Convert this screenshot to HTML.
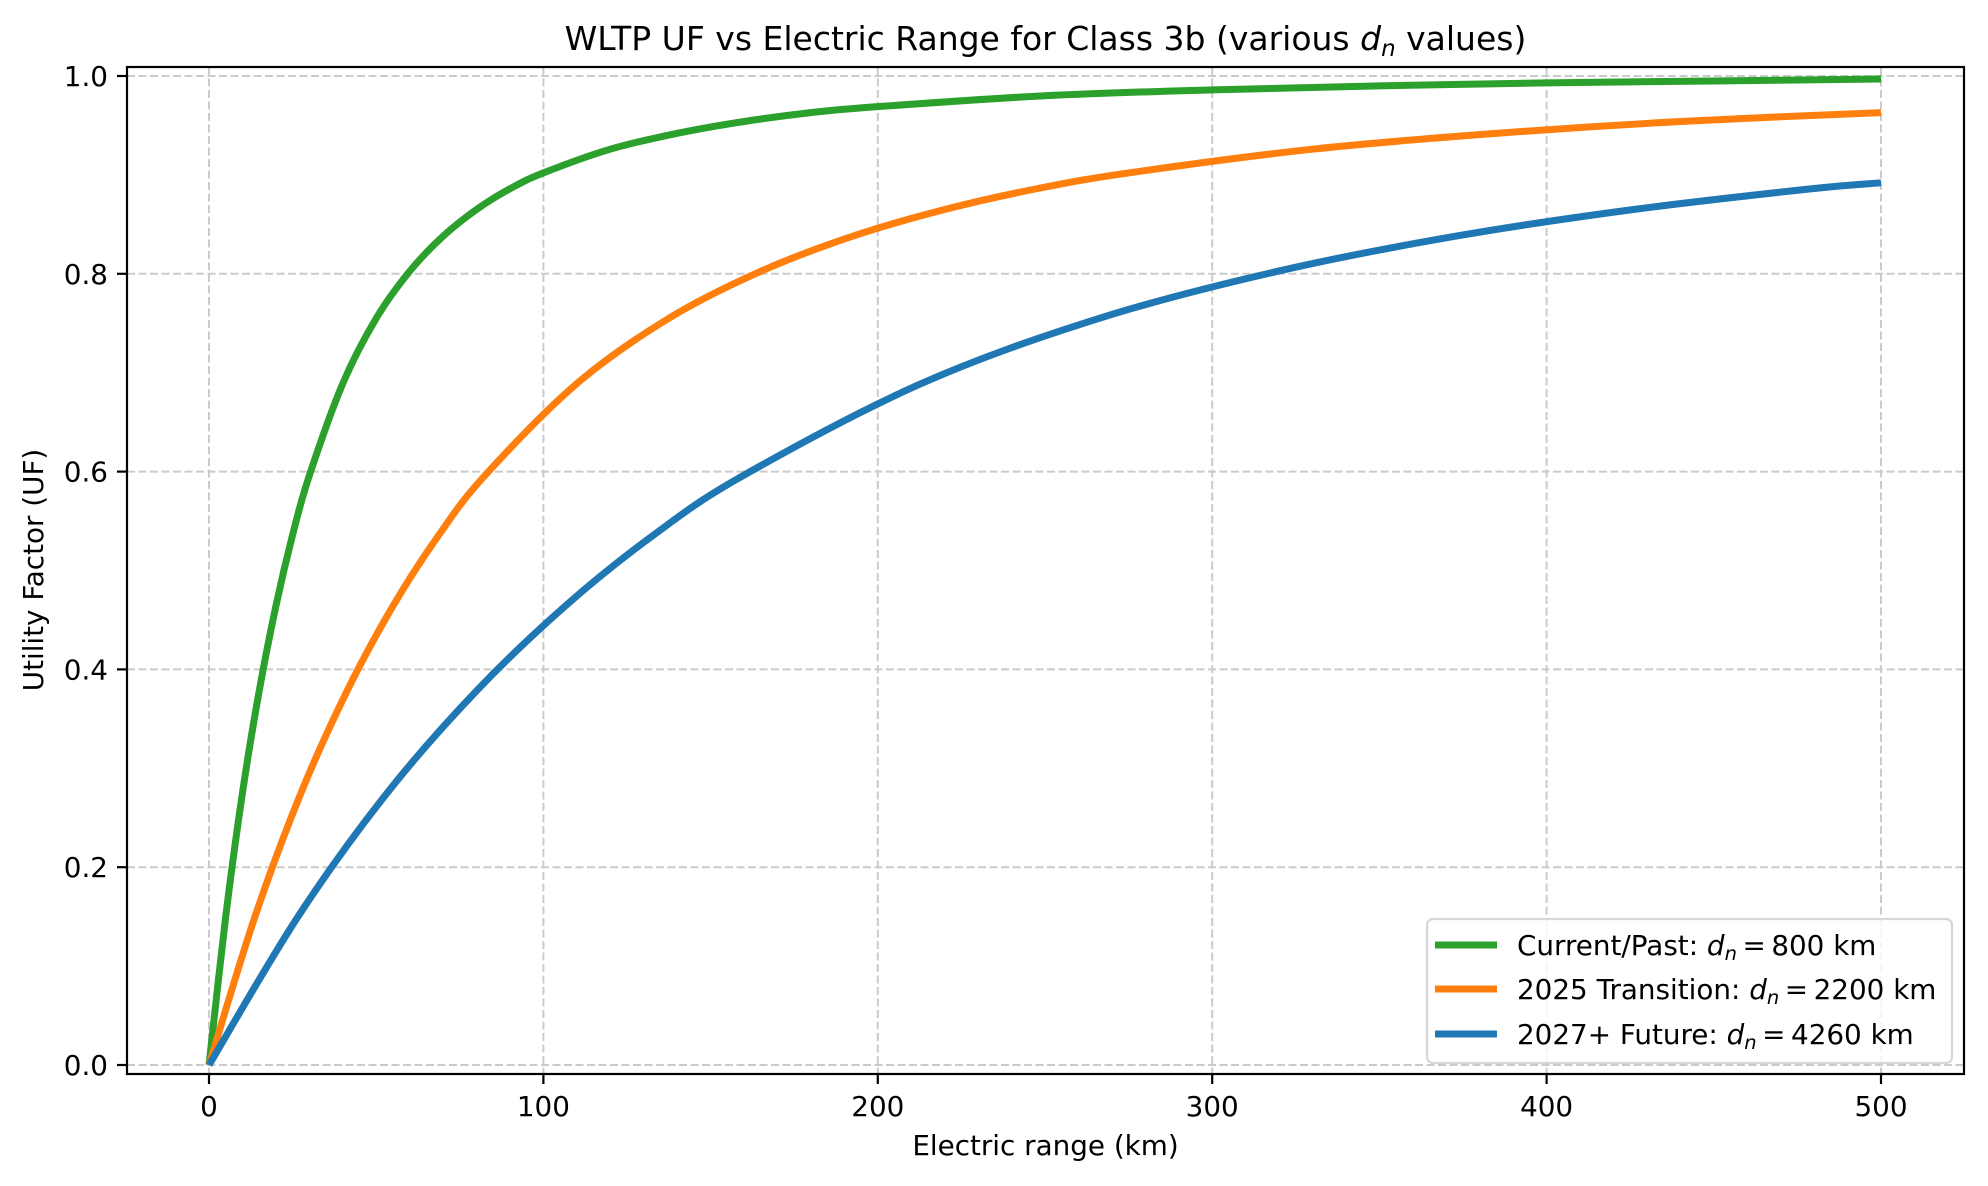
<!DOCTYPE html>
<html><head><meta charset="utf-8"><style>
html,body{margin:0;padding:0;background:#fff;}
svg{display:block;font-family:"DejaVu Sans","Liberation Sans",sans-serif;}
</style></head><body>
<svg id="chart" width="1988" height="1186" viewBox="0 0 1988 1186" xmlns="http://www.w3.org/2000/svg">
<rect width="1988" height="1186" fill="#fff"/>
<g id="grid"></g>
<g id="series"></g>
<rect x="127" y="67" width="1837" height="1007" fill="none" stroke="#000" stroke-width="2.2"/>
<g id="ticks" font-size="27.8" fill="#000"></g>
<text x="1045.5" y="50" font-size="33" text-anchor="middle">WLTP UF vs Electric Range for Class 3b (various <tspan font-style="italic">d</tspan><tspan font-style="italic" font-size="23" dy="6">n</tspan><tspan dy="-6"> values)</tspan></text>
<text x="1045.5" y="1155" font-size="27.8" text-anchor="middle">Electric range (km)</text>
<text transform="translate(43,570) rotate(-90)" font-size="27.8" text-anchor="middle">Utility Factor (UF)</text>
<g>
<rect x="1427" y="919" width="525" height="144" rx="6" fill="#fff" fill-opacity="0.8" stroke="#d6d6d6" stroke-width="2.2"/>
<line x1="1435" y1="945" x2="1497" y2="945" stroke="#2ca02c" stroke-width="7"/>
<line x1="1435" y1="989" x2="1497" y2="989" stroke="#ff7f0e" stroke-width="7"/>
<line x1="1435" y1="1034" x2="1497" y2="1034" stroke="#1f77b4" stroke-width="7"/>
<text x="1517" y="955" font-size="27.8">Current/Past: <tspan font-style="italic">d</tspan><tspan font-style="italic" font-size="19.5" dy="5">n</tspan><tspan dy="-5">&#8201;=&#8201;800 km</tspan></text>
<text x="1517" y="999" font-size="27.8">2025 Transition: <tspan font-style="italic">d</tspan><tspan font-style="italic" font-size="19.5" dy="5">n</tspan><tspan dy="-5">&#8201;=&#8201;2200 km</tspan></text>
<text x="1517" y="1044" font-size="27.8">2027+ Future: <tspan font-style="italic">d</tspan><tspan font-style="italic" font-size="19.5" dy="5">n</tspan><tspan dy="-5">&#8201;=&#8201;4260 km</tspan></text>
</g>
</svg>
<script>
const xTicks = [0, 100, 200, 300, 400, 500];
const yTicks = [0, 0.2, 0.4, 0.6, 0.8, 1.0];
const greenX = [0, 5, 10, 15, 20, 25, 30, 40, 50, 60, 70, 80, 90, 100, 120, 140, 160, 180, 200, 250, 300, 350, 400, 450, 500];
const greenY = [0, 0.150, 0.275, 0.378, 0.464, 0.536, 0.596, 0.689, 0.755, 0.8025, 0.838, 0.865, 0.886, 0.902, 0.926, 0.942, 0.954, 0.963, 0.969, 0.980, 0.986, 0.990, 0.993, 0.995, 0.997];
const orangeX = [0, 13.75, 27.5, 41.25, 55, 68.75, 82.5, 110, 137.5, 165, 192.5, 220, 247.5, 275, 330, 385, 440, 500];
const orangeY = [0, 0.150, 0.275, 0.378, 0.464, 0.536, 0.596, 0.689, 0.755, 0.8025, 0.838, 0.865, 0.886, 0.902, 0.926, 0.942, 0.954, 0.963];
const blueX = [0, 26.6, 53.25, 79.9, 106.5, 133, 159.75, 213, 266.25, 319.5, 372.75, 426, 479.25, 500];
const blueY = [0, 0.150, 0.275, 0.378, 0.464, 0.536, 0.596, 0.689, 0.755, 0.8025, 0.838, 0.865, 0.886, 0.892];

const NS = "http://www.w3.org/2000/svg";
function sx(v){ return 209 + (v - 0) * (1881 - 209) / 500; }
function sy(v){ return 1065 - v * (1065 - 76); }

const grid = document.getElementById('grid');
const ticks = document.getElementById('ticks');
xTicks.forEach(function(t){
  const g = document.createElementNS(NS,'line');
  
  
  g.setAttribute('x1',sx(t)); g.setAttribute('x2',sx(t));
  g.setAttribute('y1',67); g.setAttribute('y2',1074);
  g.setAttribute('stroke','#cbcbcb'); g.setAttribute('stroke-width','2'); g.setAttribute('stroke-dasharray','8 3.5');
  grid.appendChild(g);
  const tk = document.createElementNS(NS,'line');
  
  
  tk.setAttribute('x1',sx(t)); tk.setAttribute('x2',sx(t));
  tk.setAttribute('y1',1074); tk.setAttribute('y2',1084);
  tk.setAttribute('stroke','#000'); tk.setAttribute('stroke-width','2.2');
  ticks.appendChild(tk);
  const lb = document.createElementNS(NS,'text');
  
  
  lb.setAttribute('x',sx(t)); lb.setAttribute('y',1116);
  lb.setAttribute('text-anchor','middle');
  lb.textContent = String(t);
  ticks.appendChild(lb);
});
yTicks.forEach(function(t){
  const g = document.createElementNS(NS,'line');
  
  
  g.setAttribute('x1',127); g.setAttribute('x2',1964);
  g.setAttribute('y1',sy(t)); g.setAttribute('y2',sy(t));
  g.setAttribute('stroke','#cbcbcb'); g.setAttribute('stroke-width','2'); g.setAttribute('stroke-dasharray','8 3.5');
  grid.appendChild(g);
  const tk = document.createElementNS(NS,'line');
  
  
  tk.setAttribute('x1',117); tk.setAttribute('x2',127);
  tk.setAttribute('y1',sy(t)); tk.setAttribute('y2',sy(t));
  tk.setAttribute('stroke','#000'); tk.setAttribute('stroke-width','2.2');
  ticks.appendChild(tk);
  const lb = document.createElementNS(NS,'text');
  
  
  lb.setAttribute('x',108); lb.setAttribute('y',sy(t)+10);
  lb.setAttribute('text-anchor','end');
  lb.textContent = t.toFixed(1);
  ticks.appendChild(lb);
});

function pathFor(xs, ys){
  const p = xs.map(function(x,i){ return [sx(x), sy(ys[i])]; });
  let d = 'M' + p[0][0].toFixed(2) + ' ' + p[0][1].toFixed(2);
  for (let i = 0; i < p.length - 1; i++){
    const p0 = p[Math.max(0,i-1)], p1 = p[i], p2 = p[i+1], p3 = p[Math.min(p.length-1,i+2)];
    const c1x = p1[0] + (p2[0]-p0[0])/6, c1y = p1[1] + (p2[1]-p0[1])/6;
    const c2x = p2[0] - (p3[0]-p1[0])/6, c2y = p2[1] - (p3[1]-p1[1])/6;
    d += ' C' + c1x.toFixed(2)+' '+c1y.toFixed(2)+' '+c2x.toFixed(2)+' '+c2y.toFixed(2)+' '+p2[0].toFixed(2)+' '+p2[1].toFixed(2);
  }
  return d;
}
const series = document.getElementById('series');
[[greenX,greenY,'#2ca02c','line-current-800'],[orangeX,orangeY,'#ff7f0e','line-2025-2200'],[blueX,blueY,'#1f77b4','line-2027-4260']].forEach(function(s){
  const el = document.createElementNS(NS,'path');
  
  
  el.setAttribute('d', pathFor(s[0], s[1]));
  el.setAttribute('fill','none');
  el.setAttribute('stroke', s[2]);
  el.setAttribute('stroke-width','7');
  el.setAttribute('stroke-linejoin','round');
  series.appendChild(el);
});
</script>
</body></html>
